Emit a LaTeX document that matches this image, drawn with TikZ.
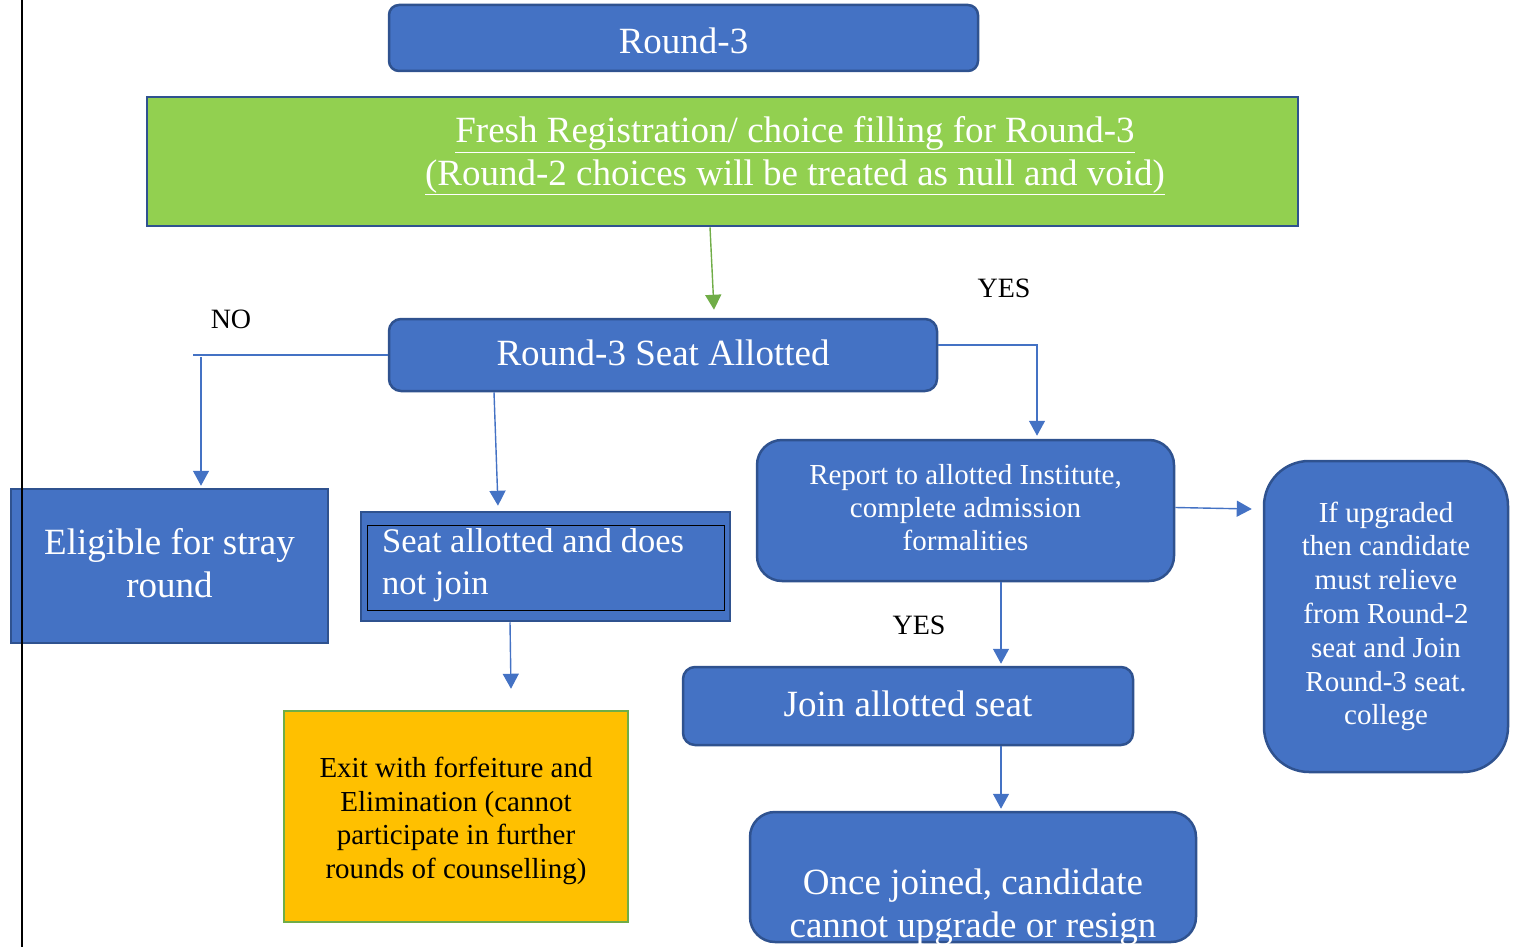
\documentclass[tikz,border=0pt]{standalone}
\usepackage{fontspec}
\setmainfont{Liberation Serif}
\usetikzlibrary{arrows.meta,calc}
\definecolor{bfill}{HTML}{4472C4}
\definecolor{bline}{HTML}{2F528F}
\definecolor{gfill}{HTML}{92D050}
\definecolor{gline}{HTML}{70AD47}
\definecolor{ofill}{HTML}{FFC000}
\newcommand{\bigf}{\fontsize{37}{42.5}\selectfont}
\newcommand{\saf}{\fontsize{34.5}{41.5}\selectfont}
\newcommand{\midf}{\fontsize{29}{33.8}\selectfont}
\newcommand{\repf}{\fontsize{29}{33}\selectfont}
\newcommand{\lblf}{\fontsize{28}{32}\selectfont}
\begin{document}
\begin{tikzpicture}[x=1pt,y=-1pt,
 box/.style={draw=bline,line width=2.5pt,fill=bfill,text=white,inner sep=0pt,align=center},
 txt/.style={text=white,align=center,inner sep=0pt},
 conn/.style={draw=bfill,line width=1.4pt},
 arr/.style={conn,-{Triangle[width=16pt,length=15pt]}},
 lbl/.style={font=\lblf,inner sep=0pt}]
\useasboundingbox (0,0) rectangle (1523,947);
\node[box,rounded corners=10pt,minimum width=589pt,minimum height=66pt] (r3) at (683.5,38) {};
\node[txt,font=\bigf] (r3txt) at (683.5,41) {Round-3};
\node[box,fill=gfill,minimum width=1151pt,minimum height=129pt] (fresh) at (722.5,161.5) {};
\node[txt,font=\bigf] (freshtxt) at (795,156) {\underline{Fresh Registration/ choice filling for Round-3}\\\underline{(Round-2 choices will be treated as null and void)}};
\node[box,rounded corners=12pt,minimum width=548pt,minimum height=72pt,font=\bigf] (seat) at (663,355) {};
\node[txt,font=\bigf] (seattxt) at (663,353) {Round-3 Seat Allotted};
\node[box,minimum width=317pt,minimum height=154pt] (elig) at (169.5,566) {};
\node[txt,font=\bigf] (eligtxt) at (169.5,563) {Eligible for stray\\round};
\node[box,minimum width=369pt,minimum height=109pt] (sa) at (545.5,566.5) {};
\node[draw=black,line width=1pt,minimum width=357pt,minimum height=85pt,inner sep=0pt] (sain) at (545.5,567.5) {};
\node[txt,align=left,anchor=west,font=\saf] (satxt) at (382,565) {Seat allotted and does\\not join};
\node[draw=gline,line width=2.5pt,fill=ofill,minimum width=344pt,minimum height=211pt,inner sep=0pt] (exit) at (456,816.5) {};
\node[align=center,inner sep=0pt,font=\midf] (exittxt) at (456,821) {Exit with forfeiture and\\Elimination (cannot\\participate in further\\rounds of counselling)};
\node[box,rounded corners=25pt,minimum width=417pt,minimum height=141pt] (rep) at (965.5,510.5) {};
\node[txt,font=\repf] (reptxt) at (965.5,508) {Report to allotted Institute,\\complete admission\\formalities};
\node[box,rounded corners=45pt,minimum width=244pt,minimum height=311pt,font=\midf] (upg) at (1386,616.5) {If upgraded\\then candidate\\must relieve\\from Round-2\\seat and Join\\Round-3 seat.\\college};
\node[box,rounded corners=12pt,minimum width=450pt,minimum height=78pt] (join) at (908,706) {};
\node[txt,font=\bigf] (jointxt) at (908,704) {Join allotted seat};
\node[box,rounded corners=25pt,minimum width=446pt,minimum height=130pt] (once) at (973,877) {};
\node[txt,font=\bigf] (oncetxt) at (973,907) {Once joined, candidate\\cannot upgrade or resign};
\node[lbl] (no) at (231,319) {NO};
\node[lbl] (yes1) at (1004,288) {YES};
\node[lbl] (yes2) at (919,625) {YES};
\draw[arr,draw=gline] ($(fresh.south)+(-12.5,0)$) -- ($(seat.north)+(51,-8)$);
\coordinate (noend) at (193,355);
\draw[conn] (seat.west) -- (noend);
\coordinate (nodrop) at (201,357);
\draw[arr] (nodrop) -- ($(elig.north)+(31.5,-2)$);
\draw[arr] ($(seat.south)+(-169,0)$) -- ($(sa.north)+(-47.5,-5)$);
\draw[arr] ($(sa.south)+(-35.5,0)$) -- ($(exit.north)+(55,-21)$);
\draw[arr] ($(seat.east)+(0,-10)$) -| ($(rep.north)+(71.5,-3)$);
\draw[arr] ($(rep.east)+(0,-3)$) -- ($(upg.west)+(-11,-107.5)$);
\draw[arr] ($(rep.south)+(35.5,0)$) -- ($(join.north)+(93,-2)$);
\draw[arr] ($(join.south)+(93,0)$) -- ($(once.north)+(28,-2)$);
\draw[black,line width=1.2pt] (22,0) -- (22,947);
\end{tikzpicture}
\end{document}
